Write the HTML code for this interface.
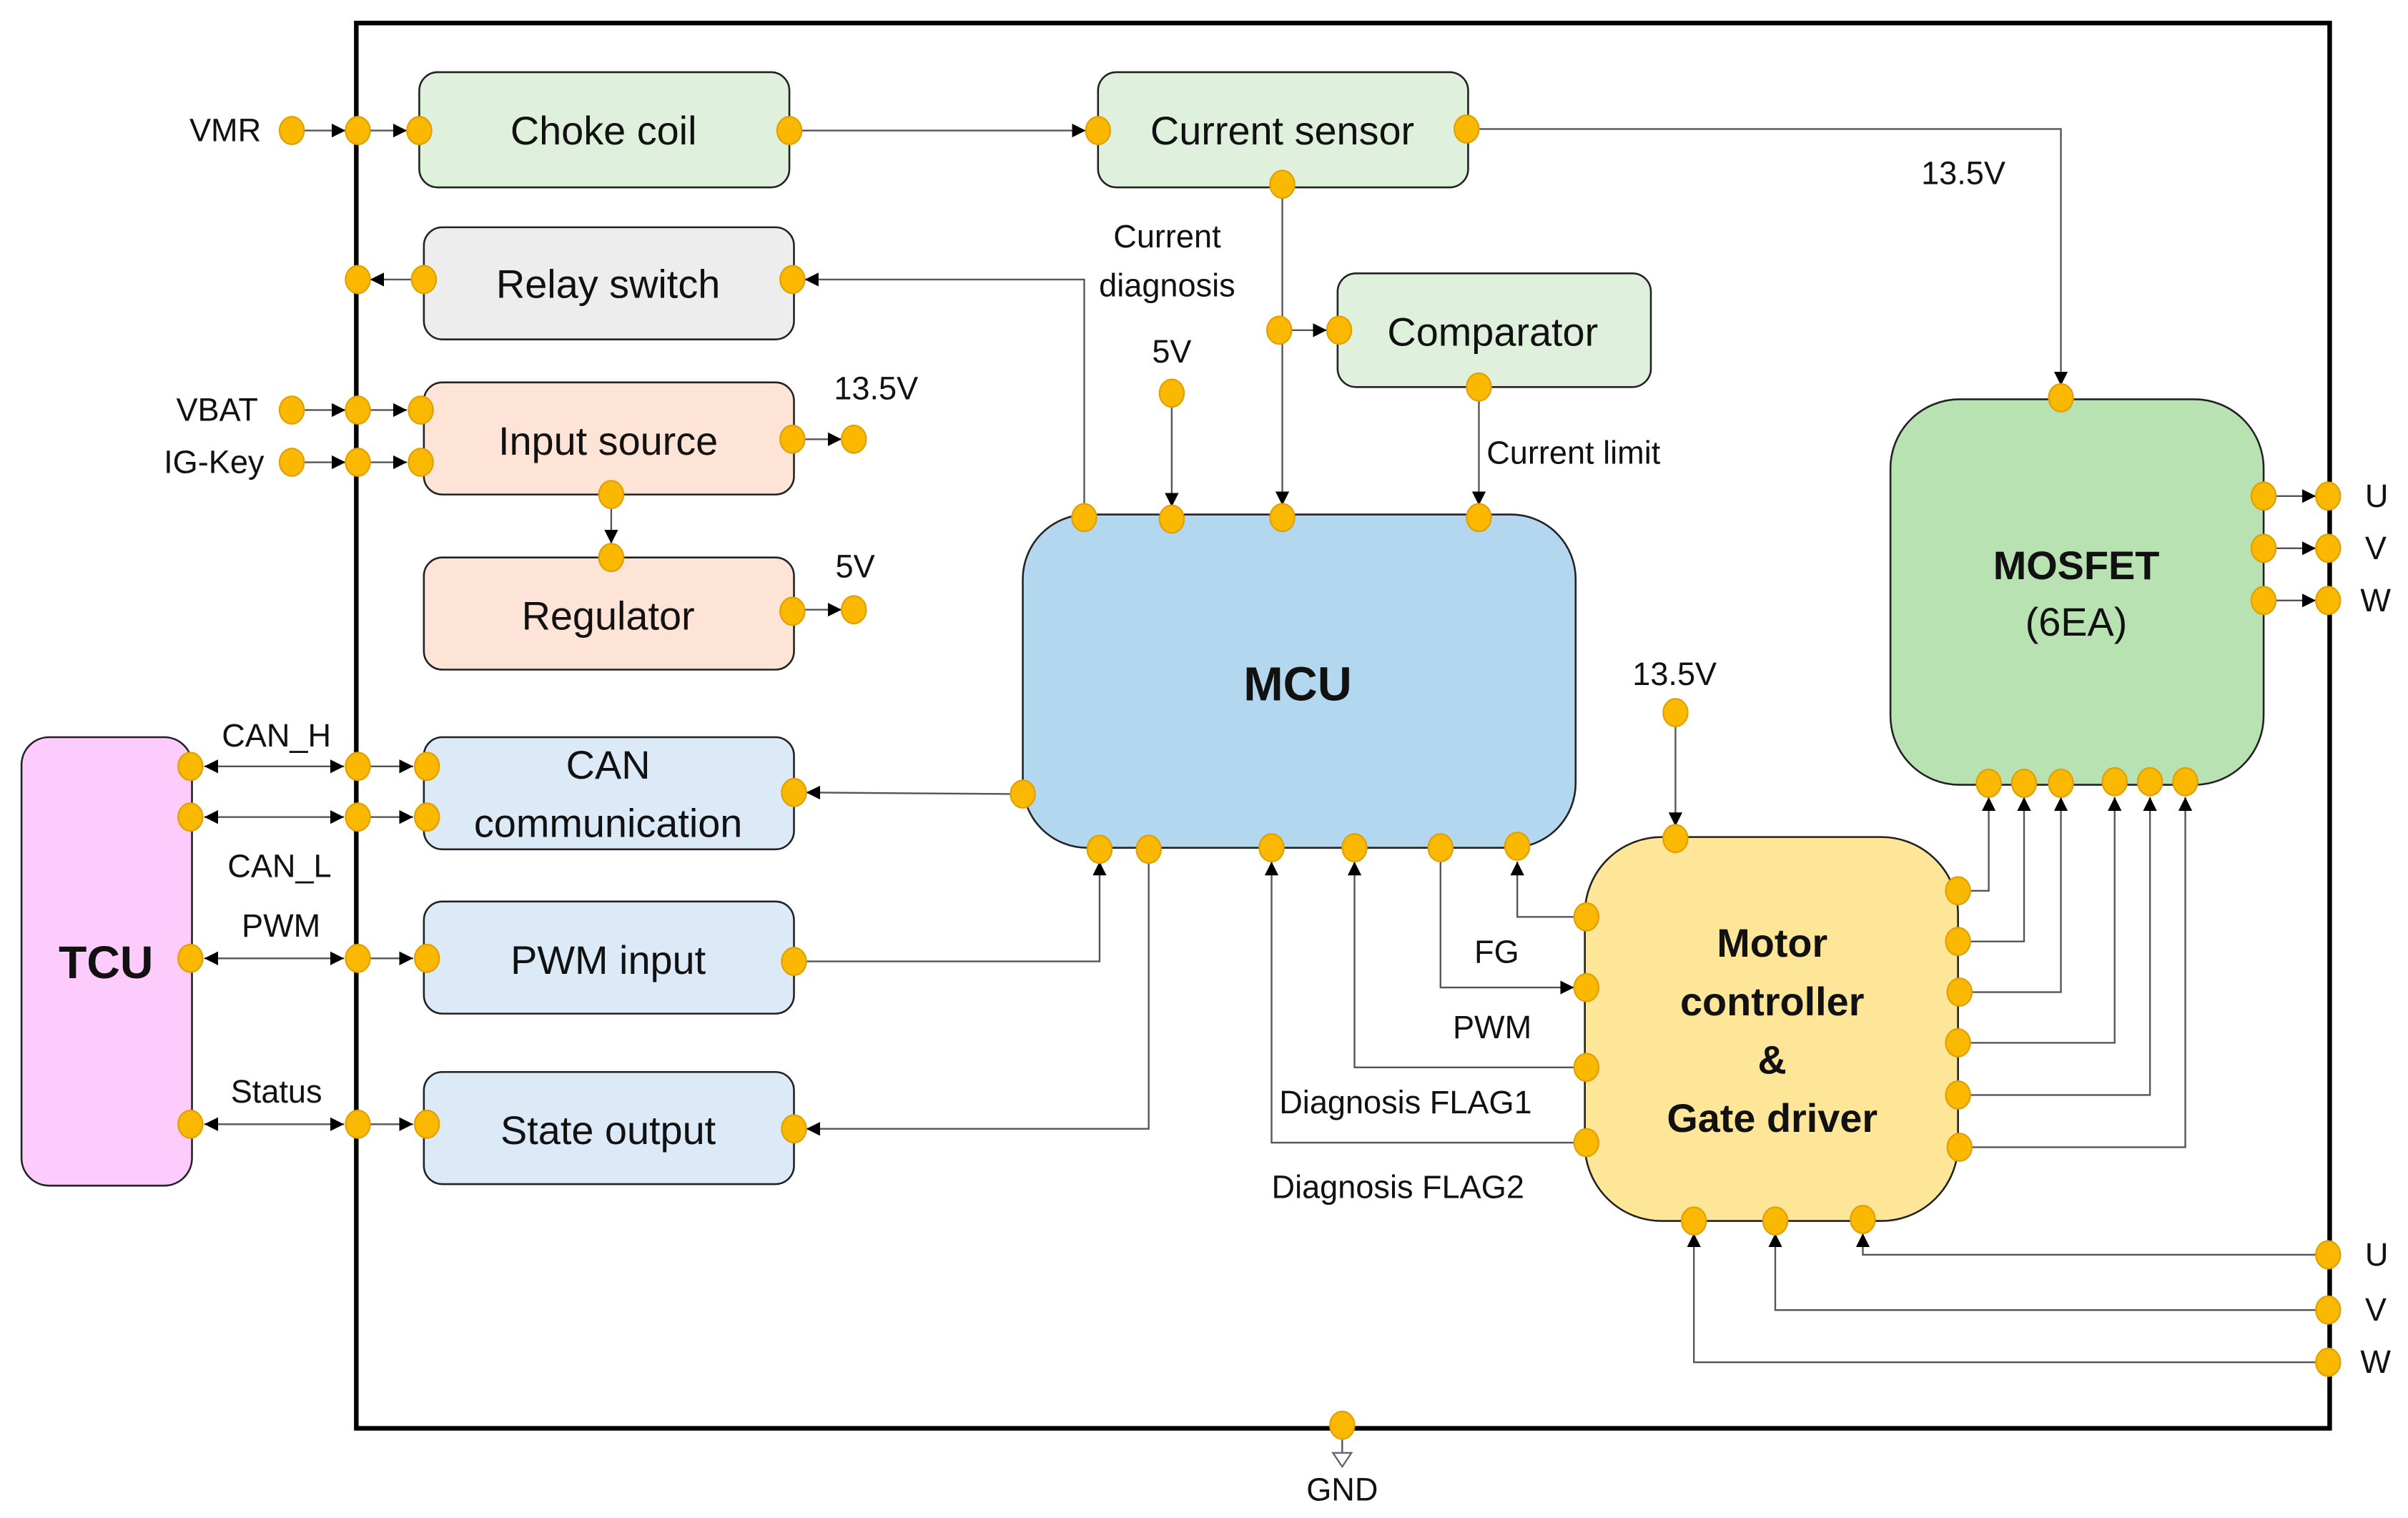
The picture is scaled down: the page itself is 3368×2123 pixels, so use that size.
<!DOCTYPE html>
<html><head><meta charset="utf-8"><style>
html,body{margin:0;padding:0;background:#fff;}
svg{display:block;}
text{font-family:"Liberation Sans",sans-serif;fill:#111;}
</style></head><body>
<svg width="3368" height="2123" viewBox="0 0 1568 988.4" xmlns="http://www.w3.org/2000/svg">
<defs>
<marker id="a" viewBox="0 0 10 10" refX="10" refY="5" markerWidth="9" markerHeight="9" markerUnits="userSpaceOnUse" orient="auto-start-reverse"><path d="M0,0L10,5L0,10z" fill="#000"/></marker>
</defs>
<rect x="232" y="15" width="1285" height="915" fill="none" stroke="#000" stroke-width="3"/>

<g stroke="#222" stroke-width="1.2">
<rect x="273" y="47" width="241" height="75" rx="12" fill="#dff0dc"/>
<rect x="715" y="47" width="241" height="75" rx="12" fill="#dff0dc"/>
<rect x="276" y="148" width="241" height="73" rx="12" fill="#ededed"/>
<rect x="276" y="249" width="241" height="73" rx="12" fill="#fde4d6"/>
<rect x="276" y="363" width="241" height="73" rx="12" fill="#fde4d6"/>
<rect x="871" y="178" width="204" height="74" rx="12" fill="#dff0dc"/>
<rect x="666" y="335" width="360" height="217" rx="42" fill="#b3d7ee"/>
<rect x="1231" y="260" width="243" height="251" rx="45" fill="#b9e2b3"/>
<rect x="1032" y="545" width="243" height="250" rx="50" fill="#fee699"/>
<rect x="14" y="480" width="111" height="292" rx="18" fill="#fecbfd"/>
<rect x="276" y="480" width="241" height="73" rx="12" fill="#dbeaf6"/>
<rect x="276" y="587" width="241" height="73" rx="12" fill="#dbeaf6"/>
<rect x="276" y="698" width="241" height="73" rx="12" fill="#dbeaf6"/>
</g>

<g stroke="#555" stroke-width="1.1" fill="none">
<line x1="198" y1="85" x2="225" y2="85" marker-end="url(#a)"/>
<line x1="241" y1="85" x2="265" y2="85" marker-end="url(#a)"/>
<line x1="522" y1="85" x2="707" y2="85" marker-end="url(#a)"/>
<line x1="268" y1="182" x2="241" y2="182" marker-end="url(#a)"/>
<polyline points="706,329 706,182 524,182" marker-end="url(#a)"/>
<line x1="198" y1="267" x2="225" y2="267" marker-end="url(#a)"/>
<line x1="241" y1="267" x2="265" y2="267" marker-end="url(#a)"/>
<line x1="198" y1="301" x2="225" y2="301" marker-end="url(#a)"/>
<line x1="241" y1="301" x2="265" y2="301" marker-end="url(#a)"/>
<line x1="524" y1="286" x2="548" y2="286" marker-end="url(#a)"/>
<line x1="398" y1="330" x2="398" y2="354" marker-end="url(#a)"/>
<line x1="524" y1="397" x2="548" y2="397" marker-end="url(#a)"/>
<polyline points="963,84 1342,84 1342,251" marker-end="url(#a)"/>
<line x1="835" y1="128" x2="835" y2="329" marker-end="url(#a)"/>
<line x1="841" y1="215" x2="864" y2="215" marker-end="url(#a)"/>
<line x1="963" y1="260" x2="963" y2="329" marker-end="url(#a)"/>
<line x1="763" y1="264" x2="763" y2="330" marker-end="url(#a)"/>
<line x1="658" y1="517" x2="525" y2="516" marker-end="url(#a)"/>
<line x1="133" y1="499" x2="224" y2="499" marker-start="url(#a)" marker-end="url(#a)"/>
<line x1="241" y1="499" x2="269" y2="499" marker-end="url(#a)"/>
<line x1="133" y1="532" x2="224" y2="532" marker-start="url(#a)" marker-end="url(#a)"/>
<line x1="241" y1="532" x2="269" y2="532" marker-end="url(#a)"/>
<line x1="133" y1="624" x2="224" y2="624" marker-start="url(#a)" marker-end="url(#a)"/>
<line x1="241" y1="624" x2="269" y2="624" marker-end="url(#a)"/>
<line x1="133" y1="732" x2="224" y2="732" marker-start="url(#a)" marker-end="url(#a)"/>
<line x1="241" y1="732" x2="269" y2="732" marker-end="url(#a)"/>
<polyline points="525,626 716,626 716,561" marker-end="url(#a)"/>
<polyline points="748,560 748,735 525,735" marker-end="url(#a)"/>
<polyline points="1025,744 828,744 828,561" marker-end="url(#a)"/>
<polyline points="1025,695 882,695 882,561" marker-end="url(#a)"/>
<polyline points="938,560 938,643 1025,643" marker-end="url(#a)"/>
<polyline points="1025,597 988,597 988,561" marker-end="url(#a)"/>
<line x1="1091" y1="472" x2="1091" y2="538" marker-end="url(#a)"/>
<polyline points="1283,580 1295,580 1295,519" marker-end="url(#a)"/>
<polyline points="1283,613 1318,613 1318,519" marker-end="url(#a)"/>
<polyline points="1283,646 1342,646 1342,519" marker-end="url(#a)"/>
<polyline points="1283,679 1377,679 1377,519" marker-end="url(#a)"/>
<polyline points="1283,713 1400,713 1400,519" marker-end="url(#a)"/>
<polyline points="1283,747 1423,747 1423,519" marker-end="url(#a)"/>
<line x1="1482" y1="323" x2="1508" y2="323" marker-end="url(#a)"/>
<line x1="1482" y1="357" x2="1508" y2="357" marker-end="url(#a)"/>
<line x1="1482" y1="391" x2="1508" y2="391" marker-end="url(#a)"/>
<polyline points="1508,817 1213,817 1213,803" marker-end="url(#a)"/>
<polyline points="1508,853 1156,853 1156,803" marker-end="url(#a)"/>
<polyline points="1508,887 1103,887 1103,803" marker-end="url(#a)"/>
<line x1="874" y1="936" x2="874" y2="946"/>
<path d="M868,946 L880,946 L874,955 Z" fill="#fff" stroke="#666"/>
</g>

<g fill="#fbb800" stroke="#e0a000" stroke-width="1">
<ellipse cx="190" cy="85" rx="8" ry="9"/><ellipse cx="233" cy="85" rx="8" ry="9"/><ellipse cx="273" cy="85" rx="8" ry="9"/>
<ellipse cx="514" cy="85" rx="8" ry="9"/><ellipse cx="715" cy="85" rx="8" ry="9"/><ellipse cx="955" cy="84" rx="8" ry="9"/>
<ellipse cx="835" cy="120" rx="8" ry="9"/>
<ellipse cx="233" cy="182" rx="8" ry="9"/><ellipse cx="276" cy="182" rx="8" ry="9"/><ellipse cx="516" cy="182" rx="8" ry="9"/>
<ellipse cx="190" cy="267" rx="8" ry="9"/><ellipse cx="233" cy="267" rx="8" ry="9"/><ellipse cx="274" cy="267" rx="8" ry="9"/>
<ellipse cx="190" cy="301" rx="8" ry="9"/><ellipse cx="233" cy="301" rx="8" ry="9"/><ellipse cx="274" cy="301" rx="8" ry="9"/>
<ellipse cx="516" cy="286" rx="8" ry="9"/><ellipse cx="556" cy="286" rx="8" ry="9"/>
<ellipse cx="398" cy="322" rx="8" ry="9"/><ellipse cx="398" cy="363" rx="8" ry="9"/>
<ellipse cx="516" cy="398" rx="8" ry="9"/><ellipse cx="556" cy="397" rx="8" ry="9"/>
<ellipse cx="833" cy="215" rx="8" ry="9"/><ellipse cx="872" cy="215" rx="8" ry="9"/>
<ellipse cx="963" cy="252" rx="8" ry="9"/><ellipse cx="763" cy="256" rx="8" ry="9"/>
<ellipse cx="706" cy="337" rx="8" ry="9"/><ellipse cx="763" cy="338" rx="8" ry="9"/><ellipse cx="835" cy="337" rx="8" ry="9"/><ellipse cx="963" cy="337" rx="8" ry="9"/>
<ellipse cx="1342" cy="259" rx="8" ry="9"/>
<ellipse cx="1474" cy="323" rx="8" ry="9"/><ellipse cx="1516" cy="323" rx="8" ry="9"/>
<ellipse cx="1474" cy="357" rx="8" ry="9"/><ellipse cx="1516" cy="357" rx="8" ry="9"/>
<ellipse cx="1474" cy="391" rx="8" ry="9"/><ellipse cx="1516" cy="391" rx="8" ry="9"/>
<ellipse cx="1091" cy="464" rx="8" ry="9"/>
<ellipse cx="666" cy="517" rx="8" ry="9"/><ellipse cx="517" cy="516" rx="8" ry="9"/>
<ellipse cx="124" cy="499" rx="8" ry="9"/><ellipse cx="233" cy="499" rx="8" ry="9"/><ellipse cx="278" cy="499" rx="8" ry="9"/>
<ellipse cx="124" cy="532" rx="8" ry="9"/><ellipse cx="233" cy="532" rx="8" ry="9"/><ellipse cx="278" cy="532" rx="8" ry="9"/>
<ellipse cx="124" cy="624" rx="8" ry="9"/><ellipse cx="233" cy="624" rx="8" ry="9"/><ellipse cx="278" cy="624" rx="8" ry="9"/>
<ellipse cx="517" cy="626" rx="8" ry="9"/>
<ellipse cx="124" cy="732" rx="8" ry="9"/><ellipse cx="233" cy="732" rx="8" ry="9"/><ellipse cx="278" cy="732" rx="8" ry="9"/>
<ellipse cx="517" cy="735" rx="8" ry="9"/>
<ellipse cx="716" cy="553" rx="8" ry="9"/><ellipse cx="748" cy="553" rx="8" ry="9"/><ellipse cx="828" cy="552" rx="8" ry="9"/><ellipse cx="882" cy="552" rx="8" ry="9"/><ellipse cx="938" cy="552" rx="8" ry="9"/><ellipse cx="988" cy="551" rx="8" ry="9"/>
<ellipse cx="1295" cy="510" rx="8" ry="9"/><ellipse cx="1318" cy="510" rx="8" ry="9"/><ellipse cx="1342" cy="510" rx="8" ry="9"/><ellipse cx="1377" cy="509" rx="8" ry="9"/><ellipse cx="1400" cy="509" rx="8" ry="9"/><ellipse cx="1423" cy="509" rx="8" ry="9"/>
<ellipse cx="1091" cy="546" rx="8" ry="9"/>
<ellipse cx="1033" cy="597" rx="8" ry="9"/><ellipse cx="1033" cy="643" rx="8" ry="9"/><ellipse cx="1033" cy="695" rx="8" ry="9"/><ellipse cx="1033" cy="744" rx="8" ry="9"/>
<ellipse cx="1275" cy="580" rx="8" ry="9"/><ellipse cx="1275" cy="613" rx="8" ry="9"/><ellipse cx="1276" cy="646" rx="8" ry="9"/><ellipse cx="1275" cy="679" rx="8" ry="9"/><ellipse cx="1275" cy="713" rx="8" ry="9"/><ellipse cx="1276" cy="747" rx="8" ry="9"/>
<ellipse cx="1103" cy="795" rx="8" ry="9"/><ellipse cx="1156" cy="795" rx="8" ry="9"/><ellipse cx="1213" cy="794" rx="8" ry="9"/>
<ellipse cx="1516" cy="817" rx="8" ry="9"/><ellipse cx="1516" cy="853" rx="8" ry="9"/><ellipse cx="1516" cy="887" rx="8" ry="9"/>
<ellipse cx="874" cy="928" rx="8" ry="9"/>
</g>

<g font-size="26" text-anchor="middle">
<text x="393" y="94">Choke coil</text>
<text x="835" y="94">Current sensor</text>
<text x="396" y="194">Relay switch</text>
<text x="396" y="296">Input source</text>
<text x="396" y="410">Regulator</text>
<text x="972" y="225">Comparator</text>
<text x="396" y="507">CAN</text>
<text x="396" y="545">communication</text>
<text x="396" y="634">PWM input</text>
<text x="396" y="745">State output</text>
<text x="845" y="456" font-size="31" font-weight="bold">MCU</text>
<text x="1352" y="377" font-weight="bold">MOSFET</text>
<text x="1352" y="414">(6EA)</text>
<text x="69" y="637" font-size="30" font-weight="bold">TCU</text>
<g font-weight="bold"><text x="1154" y="623">Motor</text><text x="1154" y="661">controller</text><text x="1154" y="699">&amp;</text><text x="1154" y="737">Gate driver</text></g>
</g>
<g font-size="21">
<text x="170" y="92" text-anchor="end">VMR</text>
<text x="168" y="274" text-anchor="end">VBAT</text>
<text x="172" y="308" text-anchor="end">IG-Key</text>
<text x="543" y="260">13.5V</text>
<text x="544" y="376">5V</text>
<text x="1251" y="120">13.5V</text>
<text x="760" y="161" text-anchor="middle">Current</text>
<text x="760" y="193" text-anchor="middle">diagnosis</text>
<text x="763" y="236" text-anchor="middle">5V</text>
<text x="968" y="302">Current limit</text>
<text x="1063" y="446">13.5V</text>
<text x="180" y="486" text-anchor="middle">CAN_H</text>
<text x="182" y="571" text-anchor="middle">CAN_L</text>
<text x="183" y="610" text-anchor="middle">PWM</text>
<text x="180" y="718" text-anchor="middle">Status</text>
<text x="960" y="627">FG</text>
<text x="946" y="676">PWM</text>
<text x="833" y="725">Diagnosis FLAG1</text>
<text x="828" y="780">Diagnosis FLAG2</text>
<text x="1540" y="330">U</text><text x="1540" y="364">V</text><text x="1537" y="398">W</text>
<text x="1540" y="824">U</text><text x="1540" y="860">V</text><text x="1537" y="894">W</text>
<text x="874" y="977" text-anchor="middle">GND</text>
</g>
</svg>
</body></html>
